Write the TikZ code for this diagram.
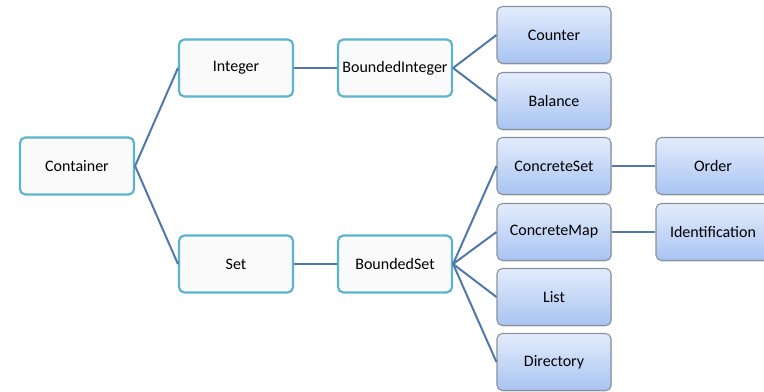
\documentclass[tikz,border=0pt]{standalone}
\usepackage{fontspec}
\setmainfont{Carlito}
\usepackage{tikz}
\usetikzlibrary{positioning, shadows}
\definecolor{ctCyan}{RGB}{90, 180, 205}
\definecolor{ctPaper}{RGB}{250, 250, 250}
\definecolor{ctEdge}{RGB}{135, 145, 160}
\definecolor{ctTop}{RGB}{228, 236, 252}
\definecolor{ctBottom}{RGB}{168, 196, 242}
\definecolor{ctLine}{RGB}{80, 120, 168}
\tikzset{
    base/.style={
        font=\fontsize{12}{14}\selectfont,
        align=center,
        rectangle,
        rounded corners=4pt,
        minimum width=85.5pt,
        minimum height=42.75pt,
        inner sep=2pt
    },
    inner/.style={
        base,
        draw=ctCyan,
        line width=1.6pt,
        fill=ctPaper
    },
    leaf/.style={
        base,
        draw=ctEdge,
        line width=0.8pt,
        top color=ctTop,
        bottom color=ctBottom,
        drop shadow={opacity=0.25, shadow xshift=0.8pt, shadow yshift=-0.8pt}
    },
    link/.style={
        line width=1.5pt,
        color=ctLine
    }
}

\begin{document}
\begin{tikzpicture}[x=0.75pt, y=-0.75pt]
  \clip (0,0) rectangle (764,392);

  % Root
  \node[inner] (container) at (77,166) {Container};

  % Second level
  \node[inner] (integer) at (236,68) {Integer};
  \node[inner] (set) at (236,264) {Set};

  % Third level
  \node[inner] (bint) at (395,68) {BoundedInteger};
  \node[inner] (bset) at (395,264) {BoundedSet};

  % Leaves
  \node[leaf] (counter) at (554,35) {Counter};
  \node[leaf] (balance) at (554,101) {Balance};
  \node[leaf] (cset) at (554,166) {ConcreteSet};
  \node[leaf] (cmap) at (554,232) {ConcreteMap};
  \node[leaf] (list) at (554,297) {List};
  \node[leaf] (directory) at (554,362) {Directory};
  \node[leaf] (order) at (713,166) {Order};
  \node[leaf] (ident) at (713,232) {Identification};

  % Links
  \draw[link] (container.east) -- (integer.west);
  \draw[link] (container.east) -- (set.west);
  \draw[link] (integer) -- (bint);
  \draw[link] (set) -- (bset);
  \draw[link] (bint.east) -- (counter.west);
  \draw[link] (bint.east) -- (balance.west);
  \draw[link] (bset.east) -- (cset.west);
  \draw[link] (bset.east) -- (cmap.west);
  \draw[link] (bset.east) -- (list.west);
  \draw[link] (bset.east) -- (directory.west);
  \draw[link] (cset) -- (order);
  \draw[link] (cmap) -- (ident);
\end{tikzpicture}
\end{document}
